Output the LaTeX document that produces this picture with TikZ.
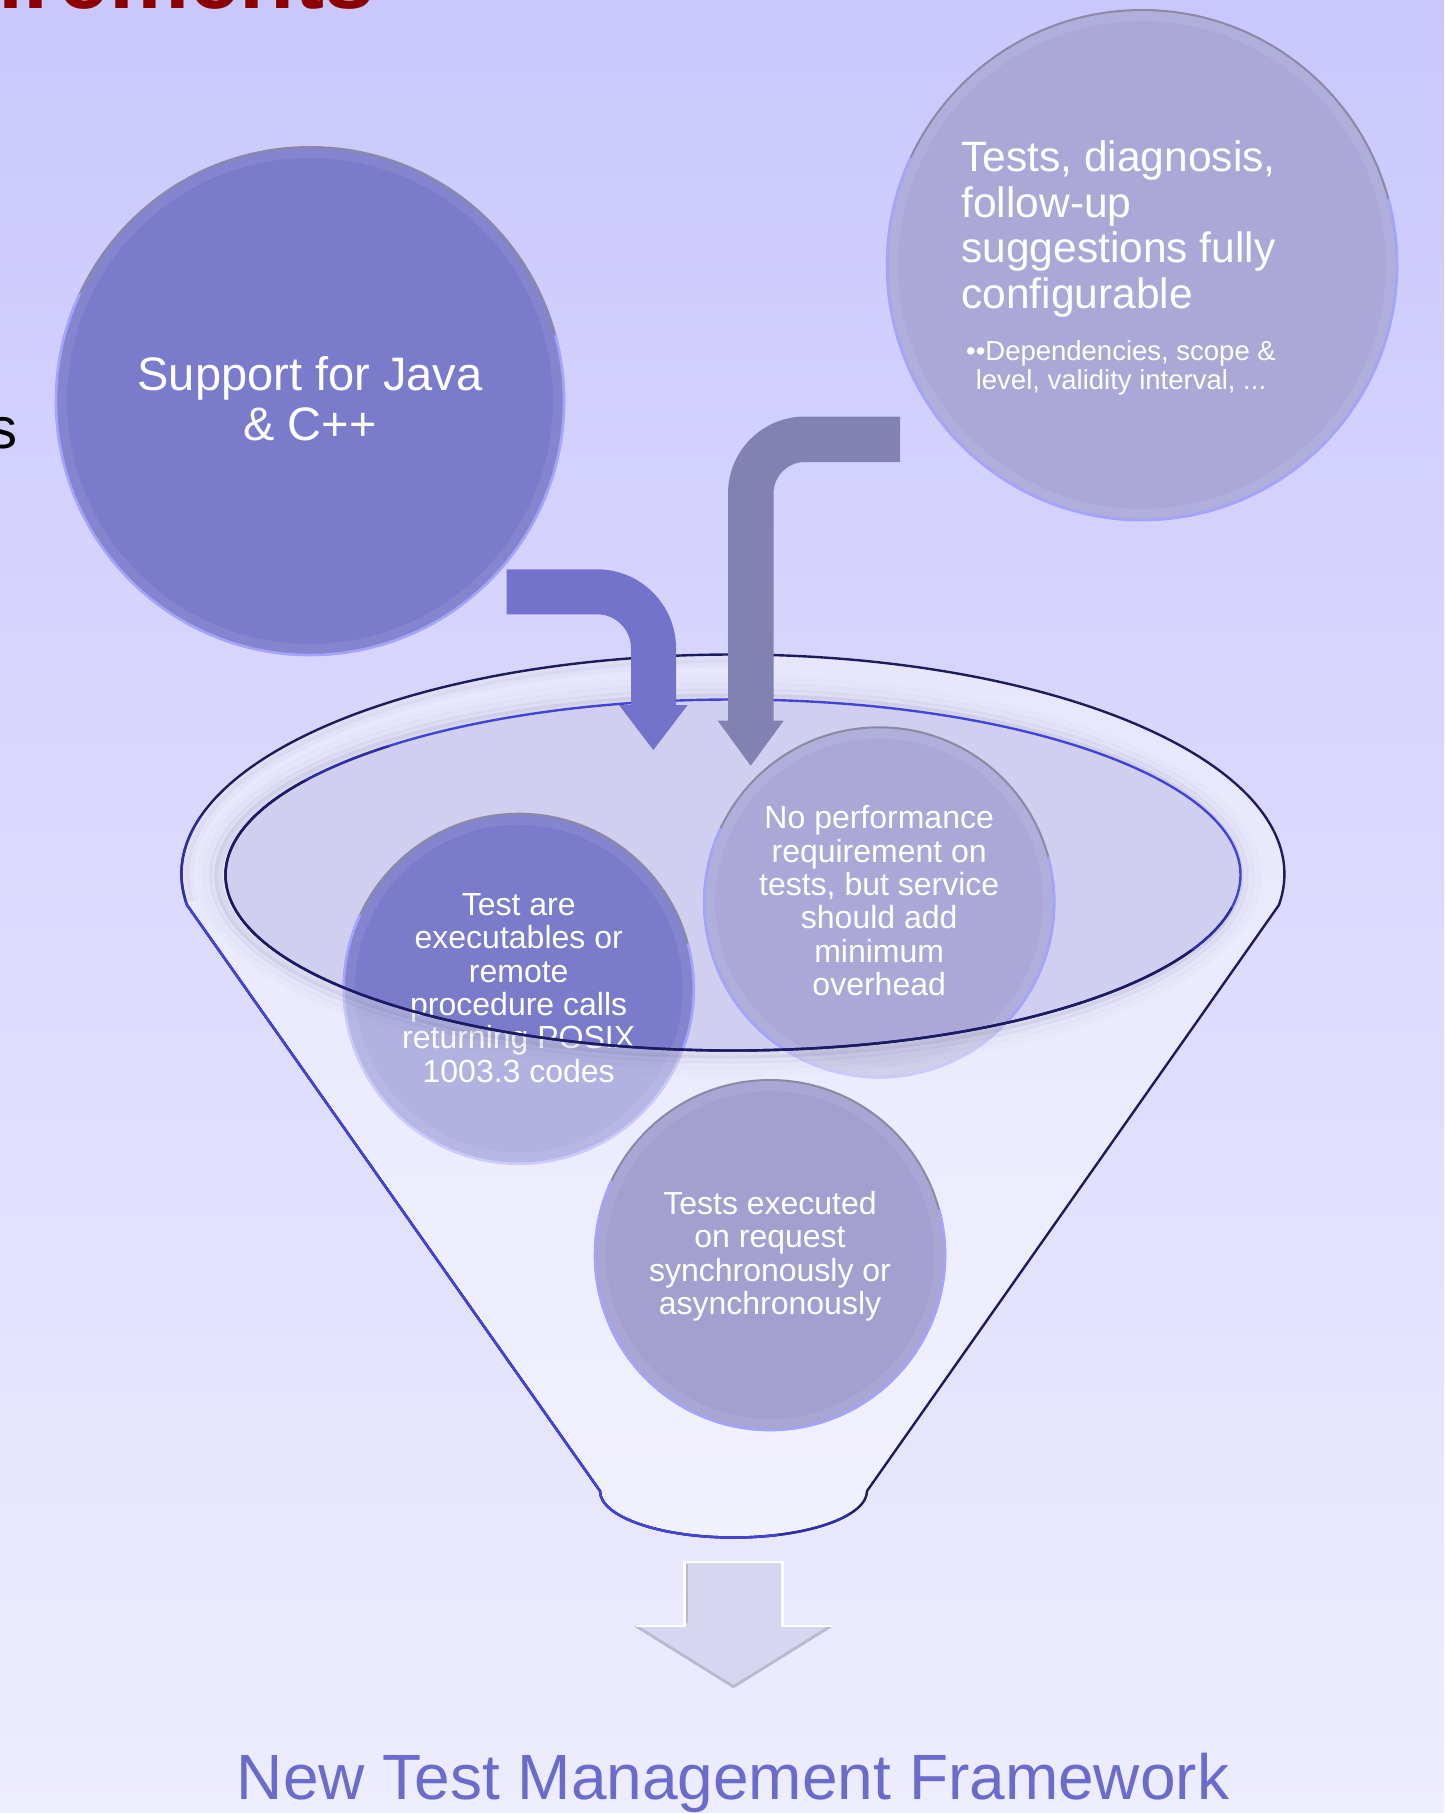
\documentclass[tikz,border=0pt]{standalone}
\usepackage{fontspec}
\setmainfont{Liberation Sans}

\definecolor{bgTop}{HTML}{CAC7FD}
\definecolor{bgBot}{HTML}{EEEDFE}
\definecolor{discBlue}{HTML}{7B7BCC}
\definecolor{discLav}{HTML}{ABA8D8}
\definecolor{discMid}{HTML}{A3A0D0}
\definecolor{edgeGray}{HTML}{8A8AA4}
\definecolor{edgeLight}{HTML}{A4A4FF}
\definecolor{arrBlue}{HTML}{7373CC}
\definecolor{arrGray}{HTML}{8282B2}
\definecolor{rimNavy}{HTML}{1C1C5C}
\definecolor{rimMid}{HTML}{2F2FA2}
\definecolor{rimBlue}{HTML}{4343DA}
\definecolor{mouthFill}{HTML}{D1CFF0}
\definecolor{shadeC}{HTML}{50507A}
\definecolor{titleRed}{HTML}{8B0000}
\definecolor{captionC}{HTML}{6B6BCC}
\definecolor{outArrow}{HTML}{D6D6F0}
\definecolor{outArrowDark}{HTML}{B9B9D4}

\tikzset{
  disc/.style={circle, inner sep=0pt, minimum size=#1},
  disctext/.style={text=white, align=center, anchor=base, inner sep=0pt,
    font=\fontsize{16pt}{16.65pt}\selectfont},
  rimline/.style={line width=1.2pt, line join=round},
}

% bevelled rim of a disc: node name, radius
\newcommand\discedge[2]{%
  \draw[white, opacity=.07, line width=5pt] (#1.center) circle[radius=#2-6];
  \draw[edgeGray, line width=1pt] (#1.center) circle[radius=#2];
  \draw[edgeLight, line width=1.3pt] (#1.center) ++(-15:#2)
    arc[start angle=-15, end angle=205, radius=#2];
}

\begin{document}
\begin{tikzpicture}[x=0.5pt, y=-0.5pt]
\useasboundingbox (0,0) rectangle (1444,1813);
\clip (0,0) rectangle (1444,1813);
\fill[top color=bgTop, bottom color=bgBot] (0,0) rectangle (1444,1813);

% slide title and side text, both running off the edge
\node[font=\fontsize{45pt}{50pt}\selectfont\bfseries, text=titleRed,
  anchor=base east, inner sep=0pt] (title) at (374.5,8.3) {uirements};
\node[font=\fontsize{29pt}{32pt}\selectfont, anchor=base east, inner sep=0pt]
  (side) at (18,448) {s};

% upper discs (multi-line labels are placed by the baseline of their last line)
\node[disc=254pt, fill=discBlue] (java) at (310,401) {};
\discedge{java}{254}
\node[text=white, align=center, anchor=base, inner sep=0pt,
  font=\fontsize{23.5pt}{25pt}\selectfont] (javaT) at (310,440)
  {Support for Java\\\& C++};

\node[disc=255pt, fill=discLav] (cfg) at (1142,265) {};
\discedge{cfg}{255}
\node[text=white, align=left, anchor=base west, inner sep=0pt,
  font=\fontsize{21.25pt}{22.75pt}\selectfont] (cfgT) at (961,308.3)
  {Tests, diagnosis,\\follow-up\\suggestions fully\\configurable};
\node[text=white, align=center, anchor=base, inner sep=0pt,
  font=\fontsize{13.75pt}{14.5pt}\selectfont] (cfgS) at (1121,389.6)
  {••Dependencies, scope \&\\level, validity interval, ...};

% funnel mouth
\fill[mouthFill] (733,875) ellipse[x radius=507.5, y radius=175.5];

% discs sitting in the mouth
\node[disc=175pt, fill=discBlue] (exe) at (518.7,988.7) {};
\discedge{exe}{175}
\node[disctext] (exeT) at (518.7,1082.1)
  {Test are\\executables or\\remote\\procedure calls\\returning POSIX\\1003.3 codes};
\node[disc=175pt, fill=discLav] (perf) at (879.2,902.3) {};
\discedge{perf}{175}
\node[disctext] (perfT) at (879.2,995.4)
  {No performance\\requirement on\\tests, but service\\should add\\minimum\\overhead};

% translucent funnel shell
\fill[white, fill opacity=.42, even odd rule]
  (187,905) arc[start angle=171.88, end angle=368.12, x radius=551.5, y radius=219.5]
  -- (867,1491) arc[start angle=0, end angle=180, x radius=133.5, y radius=46.5] -- cycle
  (733,875) ellipse[x radius=507.5, y radius=175.5];

% soft shadow around the mouth
\begin{scope}[even odd rule]
  \clip (0,0) rectangle (1444,1813)
    (733,875) ellipse[x radius=507.5, y radius=175.5];
  \foreach \sh/\op in {3/.10,8/.06,14/.035,21/.02}
    \draw[shadeC, opacity=\op, line width=4pt]
      (729,876) ellipse[x radius=507.5+\sh, y radius=175.5+\sh];
\end{scope}
% faint shading inside the outer lip, upper left
\begin{scope}
  \clip (0,0) rectangle (733,900);
  \foreach \sh/\op in {4/.05,9/.03}
    \draw[shadeC, opacity=\op, line width=4pt]
      (733,874) ellipse[x radius=551.5-\sh, y radius=219.5-\sh];
\end{scope}

% funnel outline: dark towards the upper right, bright blue towards the lower left
\draw[rimline, rimNavy]
  (187,905) arc[start angle=171.88, end angle=368.12, x radius=551.5, y radius=219.5]
  -- (867,1491) arc[start angle=0, end angle=180, x radius=133.5, y radius=46.5] -- cycle;
\begin{scope}
  \clip (-1700,-1218) -- (2745,3542) -- (-1700,3542) -- cycle;
  \draw[rimline, rimMid]
    (187,905) arc[start angle=171.88, end angle=368.12, x radius=551.5, y radius=219.5]
    -- (867,1491) arc[start angle=0, end angle=180, x radius=133.5, y radius=46.5] -- cycle;
\end{scope}
\begin{scope}
  \clip (-1750,-1172) -- (2695,3588) -- (-1750,3588) -- cycle;
  \draw[rimline, rimBlue]
    (187,905) arc[start angle=171.88, end angle=368.12, x radius=551.5, y radius=219.5]
    -- (867,1491) arc[start angle=0, end angle=180, x radius=133.5, y radius=46.5] -- cycle;
\end{scope}

% mouth outline: bright on top, dark underneath
\draw[rimline, rimBlue] (733,875) ellipse[x radius=507.5, y radius=175.5];
\begin{scope}
  \clip (-1500,385) -- (2160,1085) -- (2160,2200) -- (-1500,2200) -- cycle;
  \draw[rimline, rimMid] (733,875) ellipse[x radius=507.5, y radius=175.5];
\end{scope}
\begin{scope}
  \clip (-1500,435) -- (2160,1135) -- (2160,2200) -- (-1500,2200) -- cycle;
  \draw[rimline, rimNavy] (733,875) ellipse[x radius=507.5, y radius=175.5];
\end{scope}

% disc lying in the funnel body
\node[disc=175pt, fill=discMid] (req) at (770,1255) {};
\discedge{req}{175}
\node[disctext] (reqT) at (770,1314.5)
  {Tests executed\\on request\\synchronously or\\asynchronously};

% bent arrows feeding the funnel
\fill[arrBlue] (506.7,569.3) -- (597,569.3)
  arc[start angle=-90, end angle=0, radius=79]
  -- (676,705) -- (687.7,705) -- (653.3,750) -- (619,705) -- (631,705) -- (631,648.3)
  arc[start angle=0, end angle=-90, radius=34]
  -- (506.7,614.3) -- cycle;
\fill[arrGray] (900,416.5) -- (805,416.5)
  arc[start angle=-90, end angle=-180, radius=77]
  -- (728,720.7) -- (717.7,720.7) -- (750.7,765.7) -- (783.7,720.7) -- (773.5,720.7) -- (773.5,493.5)
  arc[start angle=180, end angle=270, radius=31.5]
  -- (900,462) -- cycle;

% output arrow
\fill[outArrow] (684.5,1561.7) -- (782.5,1561.7) -- (782.5,1625.7) -- (831.5,1625.7)
  -- (733.5,1686.7) -- (635.5,1625.7) -- (684.5,1625.7) -- cycle;
\draw[outArrowDark, line width=1.4pt, line join=round]
  (831.5,1625.7) -- (733.5,1686.7) -- (635.5,1625.7);
\draw[white, line width=1.2pt, line join=round]
  (635.5,1625.7) -- (684.5,1625.7) -- (684.5,1561.7) -- (782.5,1561.7) -- (782.5,1625.7) -- (831.5,1625.7);
\draw[outArrowDark, line width=0.8pt] (687,1564) -- (687,1623);

\node[font=\fontsize{32pt}{36pt}\selectfont, text=captionC, anchor=base, inner sep=0pt]
  (caption) at (733,1799) {New Test Management Framework};
\end{tikzpicture}
\end{document}
